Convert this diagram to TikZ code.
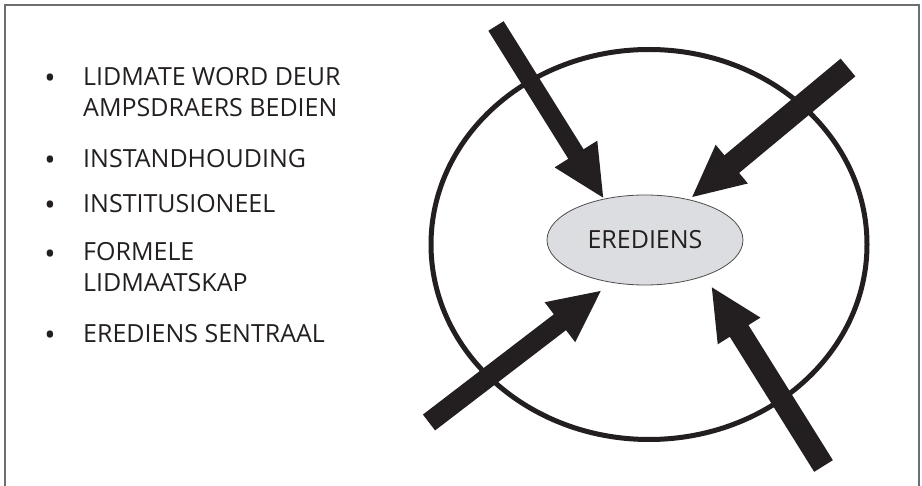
\documentclass[tikz,border=0pt]{standalone}
\usepackage{fontspec}
\setmainfont{Open Sans}
\usetikzlibrary{positioning}
\usetikzlibrary{arrows.meta}
\usetikzlibrary{shapes.geometric}

\definecolor{inkleur}{HTML}{231F20}
\definecolor{raamkleur}{HTML}{6D6E71}
\definecolor{kernkleur}{HTML}{DCDDE0}

\tikzset{
	blokpyl/.style = {inkleur, line width = 20pt, -{Triangle[length = 53pt, width = 46pt]}},
	punt/.style = {anchor = base, text = inkleur, inner sep = 0pt, font = \fontsize{30}{31}\selectfont},
	item/.style = {anchor = base west, text = inkleur, inner sep = 0pt, align = left}
}

\begin{document}
\begin{tikzpicture}[x = 1pt, y = -1pt, font = \fontsize{25}{31}\selectfont]
					\useasboundingbox (0, 0) rectangle (922, 486);
					\draw [raamkleur, line width = 1.6pt] (5, 490) -- (5, 5) -- (919, 5) -- (919, 490);
					% lys links
					\node (p1) at (50, 89) [punt] {•};
					\node (i1) at (83, 117) [item] {LIDMATE WORD DEUR\\AMPSDRAERS BEDIEN};
					\node (p2) at (50, 171) [punt] {•};
					\node (i2) at (83, 168) [item] {INSTANDHOUDING};
					\node (p3) at (50, 216) [punt] {•};
					\node (i3) at (83, 213) [item] {INSTITUSIONEEL};
					\node (p4) at (50, 265) [punt] {•};
					\node (i4) at (83, 292) [item] {FORMELE\\LIDMAATSKAP};
					\node (p5) at (50, 346) [punt] {•};
					\node (i5) at (83, 343) [item] {EREDIENS SENTRAAL};
					% sirkel en kern
					\node (buite) at (649, 244.5) [ellipse, draw = inkleur, line width = 5pt, minimum width = 436pt, minimum height = 390pt, inner sep = 0pt] {};
					\node (kern) at (645, 240) [ellipse, draw = inkleur!80, fill = kernkleur, line width = 0.8pt, minimum width = 196pt, minimum height = 90pt, inner sep = 0pt, text = inkleur] {EREDIENS};
					% pyle
					\coordinate (s1) at (496, 26);
					\coordinate (k1) at (604, 199);
					\coordinate (s2) at (848, 67.5);
					\coordinate (k2) at (691, 198);
					\coordinate (s3) at (429, 422.5);
					\coordinate (k3) at (602, 290);
					\coordinate (s4) at (823.5, 466);
					\coordinate (k4) at (711, 286);
					\draw [blokpyl, line width = 18pt] (s1) -- (k1);
					\draw [blokpyl, line width = 23pt] (s2) -- (k2);
					\draw [blokpyl] (s3) -- (k3);
					\draw [blokpyl, line width = 22pt] (s4) -- (k4);
				\end{tikzpicture}
\end{document}
